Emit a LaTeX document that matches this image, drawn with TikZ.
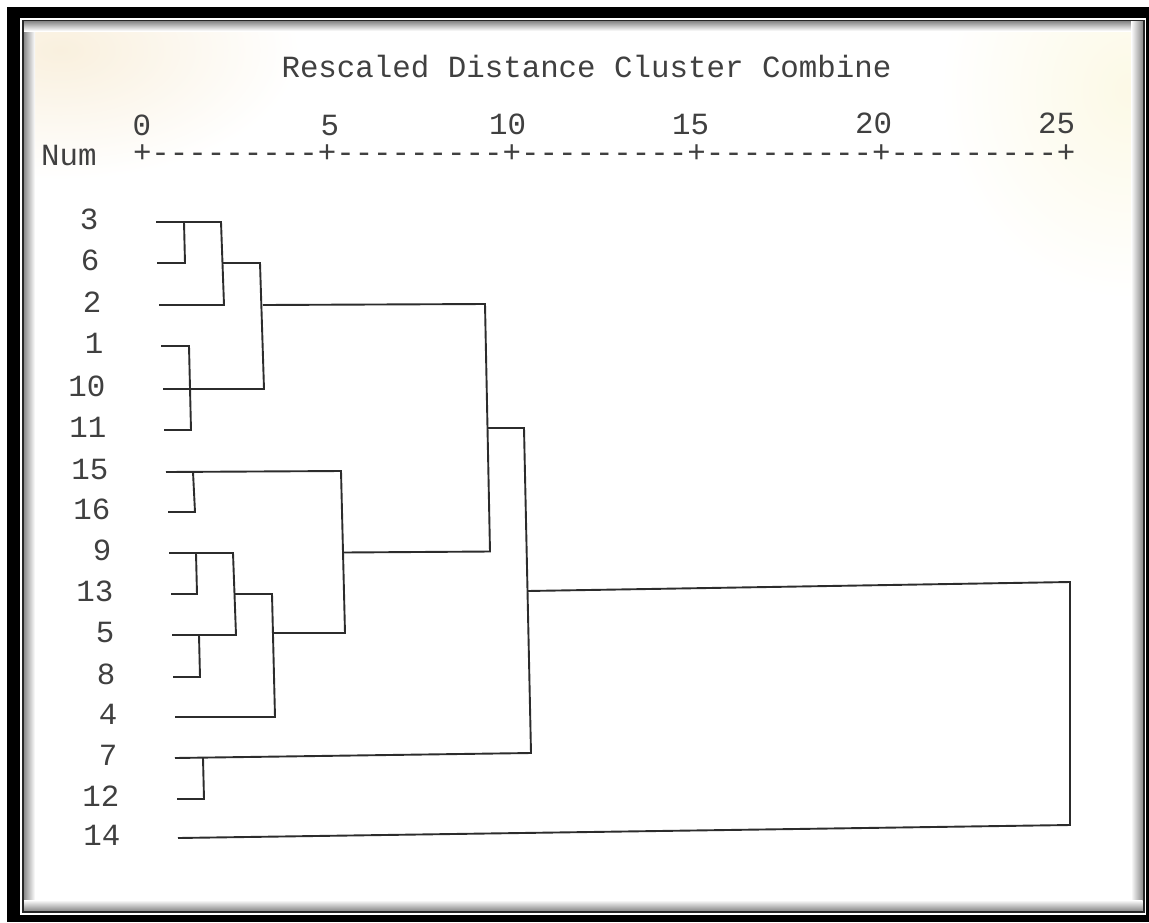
\documentclass[tikz,border=0pt]{standalone}
\usepackage{fontspec}
\setmonofont{Liberation Mono}
\definecolor{ink}{HTML}{2C2C2C}
\definecolor{print}{HTML}{404040}
\definecolor{peach}{RGB}{249,240,222}
\definecolor{cream}{RGB}{252,249,230}
\definecolor{rim}{HTML}{262626}
\begin{document}
\begin{tikzpicture}[x=1pt,y=-1pt,
  link/.style={draw=ink, line width=1.9pt, line join=miter},
  lbl/.style={font=\ttfamily\fontsize{30.8}{36}\selectfont, text=print, inner sep=0pt},
  shadowL/.style={left color=black!45, right color=white},
  shadowT/.style={top color=black!45, bottom color=white},
]
\useasboundingbox (0,0) rectangle (1149,922);
\fill[white] (0,0) rectangle (1149,922);
% picture frame: black band, thin white gap, dark rim
\fill[black] (7,7) rectangle (1149,922);
\fill[white] (20,17.5) rectangle (1146,914.5);
\fill[rim] (22,19.5) rectangle (1144.5,912.5);
\fill[white] (24,21.5) rectangle (1142.5,910.5);
% warm tint of the paper in the upper corners
\begin{scope}
  \clip (24,21.5) rectangle (1142.5,910.5);
  \shade[inner color=peach, outer color=white] (60,50) ellipse (240 and 130);
  \shade[inner color=cream, outer color=white] (1130,90) ellipse (190 and 210);
\end{scope}
% inner shadow along the rim
\shade[shadowL] (24,21.5) rectangle (35,910.5);
\shade[shadowT] (24,21.5) rectangle (1142.5,31);
\shade[left color=white, right color=black!45] (1131,21.5) rectangle (1142.5,910.5);
\shade[top color=white, bottom color=black!45] (24,900) rectangle (1142.5,910.5);

% title and scale
\node[lbl, anchor=base] (title) at (586.5,77) {Rescaled Distance Cluster Combine};
\node[lbl, anchor=base east] (t0)  at (151.2,135) {0};
\node[lbl, anchor=base east] (t5)  at (339.2,135) {5};
\node[lbl, anchor=base east] (t10) at (526.2,134.5) {10};
\node[lbl, anchor=base east] (t15) at (709.2,134) {15};
\node[lbl, anchor=base east] (t20) at (892.2,133.5) {20};
\node[lbl, anchor=base east] (t25) at (1075.2,133) {25};
\node[lbl, anchor=base west] (num) at (41,165) {Num};
\node[lbl, anchor=base west, text height=16pt, text depth=0pt] (axis) at (132.8,162)
  {+---------+---------+---------+---------+---------+};

% case labels
\node[lbl, anchor=base east] (n3)  at (98.5,229.5) {3};
\node[lbl, anchor=base east] (n6)  at (99.5,270.5) {6};
\node[lbl, anchor=base east] (n2)  at (101.5,312.5) {2};
\node[lbl, anchor=base east] (n1)  at (103.5,353.5) {1};
\node[lbl, anchor=base east] (n10) at (105.5,396.5) {10};
\node[lbl, anchor=base east] (n11) at (106.5,437.5) {11};
\node[lbl, anchor=base east] (n15) at (108.5,479.5) {15};
\node[lbl, anchor=base east] (n16) at (110.5,519.5) {16};
\node[lbl, anchor=base east] (n9)  at (111.5,560.5) {9};
\node[lbl, anchor=base east] (n13) at (113.5,601.5) {13};
\node[lbl, anchor=base east] (n5)  at (114.5,642.5) {5};
\node[lbl, anchor=base east] (n8)  at (115.5,684.5) {8};
\node[lbl, anchor=base east] (n4)  at (117.5,724.5) {4};
\node[lbl, anchor=base east] (n7)  at (117.5,765.5) {7};
\node[lbl, anchor=base east] (n12) at (119.5,806.5) {12};
\node[lbl, anchor=base east] (n14) at (120.5,845.5) {14};

% leaf line starts
\coordinate (l3)  at (156,222);
\coordinate (l6)  at (157,263);
\coordinate (l2)  at (159,305);
\coordinate (l1)  at (161,346);
\coordinate (l10) at (163,389);
\coordinate (l11) at (164,430);
\coordinate (l15) at (166,472);
\coordinate (l16) at (168,512);
\coordinate (l9)  at (169,553);
\coordinate (l13) at (171,594);
\coordinate (l5)  at (172,635);
\coordinate (l8)  at (173,677);
\coordinate (l4)  at (175,717);
\coordinate (l7)  at (175,758);
\coordinate (l12) at (177,799);
\coordinate (l14) at (178,838);

% merge corners
\coordinate (A1) at (184,222);   \coordinate (A2) at (185,263);
\coordinate (B1) at (221,222);   \coordinate (B2) at (224,305);   \coordinate (Bm) at (222.5,263);
\coordinate (C1) at (260,263);   \coordinate (C2) at (264,389);   \coordinate (Cm) at (263,305);
\coordinate (D1) at (189,346);   \coordinate (D2) at (191,430);
\coordinate (E1) at (193,472);   \coordinate (E2) at (195,512);
\coordinate (F1) at (196,553);   \coordinate (F2) at (197,594);
\coordinate (G1) at (199,635);   \coordinate (G2) at (200,677);
\coordinate (H1) at (233,553);   \coordinate (H2) at (236,635);   \coordinate (Hm) at (234.5,594);
\coordinate (I1) at (272,594);   \coordinate (I2) at (275,717);   \coordinate (Im) at (274,633);
\coordinate (J1) at (341,471);   \coordinate (J2) at (345,633);   \coordinate (Jm) at (343,552.5);
\coordinate (K1) at (485,304);   \coordinate (K2) at (490,551.5); \coordinate (Km) at (487.5,428);
\coordinate (L1) at (203,758);   \coordinate (L2) at (204,799);
\coordinate (M1) at (524,428);   \coordinate (M2) at (531,753);   \coordinate (Mm) at (527.5,591);
\coordinate (N1) at (1070,582);  \coordinate (N2) at (1070,825);

% dendrogram
\draw[link] (A1) -- (A2) -- (l6);
\draw[link] (l3) -- (B1) -- (B2) -- (l2);
\draw[link] (l1) -- (D1) -- (D2) -- (l11);
\draw[link] (Bm) -- (C1) -- (C2) -- (l10);
\draw[link] (E1) -- (E2) -- (l16);
\draw[link] (F1) -- (F2) -- (l13);
\draw[link] (G1) -- (G2) -- (l8);
\draw[link] (l9) -- (H1) -- (H2) -- (l5);
\draw[link] (Hm) -- (I1) -- (I2) -- (l4);
\draw[link] (l15) -- (J1) -- (J2) -- (Im);
\draw[link] (Cm) -- (K1) -- (K2) -- (Jm);
\draw[link] (L1) -- (L2) -- (l12);
\draw[link] (Km) -- (M1) -- (M2) -- (l7);
\draw[link] (Mm) -- (N1) -- (N2) -- (l14);
\end{tikzpicture}
\end{document}
